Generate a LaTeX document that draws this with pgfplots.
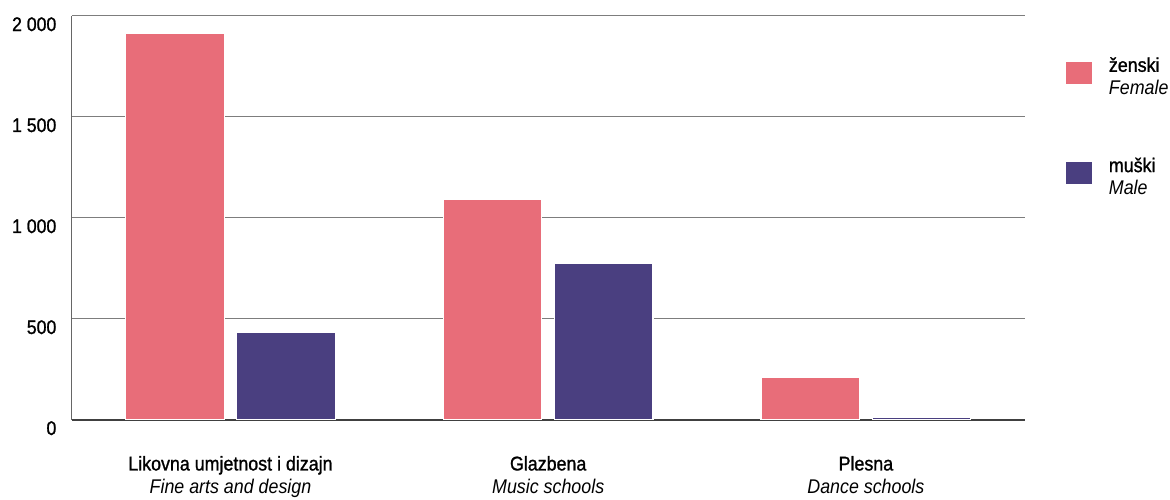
\documentclass[border=0pt]{standalone}
\usepackage{fontspec}
\setmainfont{Liberation Sans}[FakeStretch=0.9]
\newfontfamily\medium{Liberation Sans}[FakeStretch=0.9, FakeBold=1.2]
\usepackage{pgfplots}
\pgfplotsset{compat=1.18}
\definecolor{zenski}{RGB}{232,109,121}
\definecolor{muski}{RGB}{74,63,128}
\definecolor{gridgray}{RGB}{125,125,125}
% bars above the grid, axis lines above the bars
\pgfplotsset{layers/barsbelow/.define layer set={axis background,axis grid,main,axis ticks,axis lines,axis tick labels,axis descriptions,axis foreground}{}}

\begin{document}
\begin{tikzpicture}
\begin{axis}[
  set layers=barsbelow,
  scale only axis, width=479bp, height=203bp,
  xmin=-0.5, xmax=2.5, ymin=0, ymax=2000,
  axis x line=bottom, axis y line=left, axis line style={-},
  x axis line style={draw=black!75, line width=0.8bp},
  y axis line style={draw=black!60, line width=0.5bp},
  ymajorgrids, grid style={gridgray, line width=0.55bp},
  major tick length=0pt,
  ytick={0,500,1000,1500,2000},
  yticklabels={0,500,1 000,1 500,2 000},
  yticklabel style={anchor=north east, inner sep=0pt, xshift=-7.5bp, yshift=-0.5bp,
    font=\medium\fontsize{9.9}{11}\selectfont},
  xtick={0,1,2},
  xticklabels={{{\medium Likovna umjetnost i dizajn}\\\textit{Fine arts and design}},
    {{\medium Glazbena}\\\textit{Music schools}},
    {{\medium Plesna}\\\textit{Dance schools}}},
  xticklabel style={align=center, anchor=north, inner sep=0pt, yshift=-18bp,
    font=\fontsize{10}{11.5}\selectfont},
  ybar, bar width=0.31,
  legend style={at={(1.0418,0.912)}, anchor=north west, draw=none, fill=none,
    inner sep=0pt, row sep=31bp, column sep=6bp,
    font=\fontsize{10}{11.5}\selectfont, cells={anchor=west}},
  legend cell align=left,
]
\addplot[fill=zenski, draw=white, line width=0.6bp, bar shift=-0.175,
  legend image code/.code={\path[fill=zenski] (0bp,-6.5bp) rectangle (13.5bp,5bp);}]
  coordinates {(0,1913) (1,1092) (2,212)};
\addlegendentry{\begin{tabular}{@{}l@{}}{\medium ženski}\\\textit{Female}\end{tabular}}
\addplot[fill=muski, draw=white, line width=0.6bp, bar shift=0.175,
  legend image code/.code={\path[fill=muski] (0bp,-6.5bp) rectangle (13.5bp,5bp);}]
  coordinates {(0,432) (1,776) (2,13)};
\addlegendentry{\begin{tabular}{@{}l@{}}{\medium muški}\\\textit{Male}\end{tabular}}
\coordinate (sw) at (rel axis cs:0,0);
\coordinate (ne) at (rel axis cs:1,1);
\end{axis}
\pgfresetboundingbox
\path ([shift={(-36bp,-40bp)}]sw) rectangle ([shift={(73bp,8bp)}]ne);
\end{tikzpicture}
\end{document}
